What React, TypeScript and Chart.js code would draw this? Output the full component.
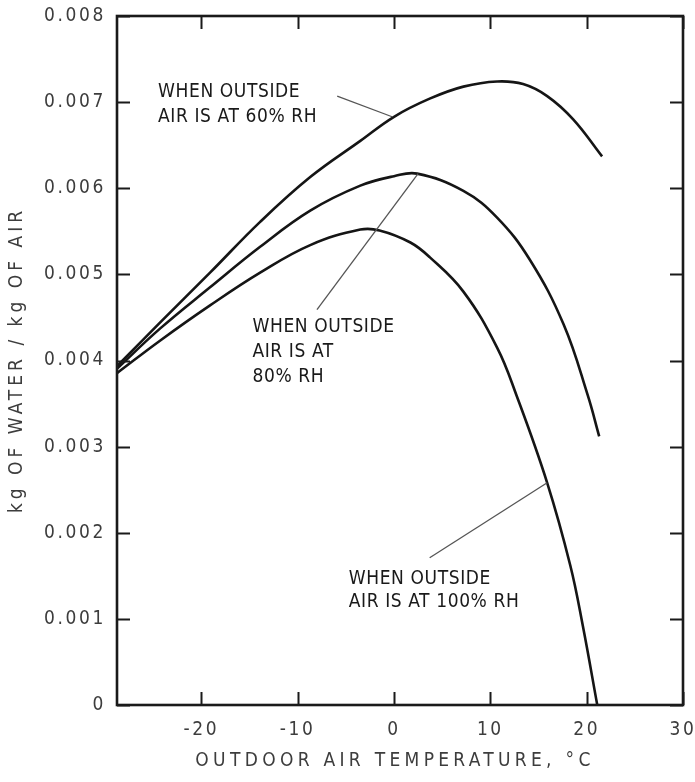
import { useEffect, useRef } from "react";
import { Chart, registerables } from "chart.js";

Chart.register(...registerables);

// ---- data ----
const xTicks = [-20, -10, 0, 10, 20, 30];
const yTicks = [0, 0.001, 0.002, 0.003, 0.004, 0.005, 0.006, 0.007, 0.008];

const temps60 = [-28.8, -24.3, -19.1, -13.9, -8.7, -3.5, 0, 3.7, 7.2, 10.7, 13.4, 15.9, 18.6, 21.6];
const rh60 = [0.00393, 0.00444, 0.00502, 0.00561, 0.00613, 0.00655, 0.00683, 0.00704, 0.00718, 0.00724, 0.00721, 0.00707, 0.0068, 0.00637];

const temps80 = [-28.8, -24.3, -19.1, -13.9, -8.7, -3.5, 0, 2.4, 7.2, 10.7, 14.1, 17.6, 20.1, 21.3];
const rh80 = [0.0039, 0.00437, 0.00485, 0.00532, 0.00574, 0.00603, 0.00614, 0.00617, 0.00597, 0.00566, 0.00517, 0.00442, 0.0036, 0.00312];

const temps100 = [-28.8, -24.3, -19.1, -13.9, -8.7, -3.5, -1.5, 1.7, 3.7, 7.2, 10.7, 12.7, 15.9, 18.3, 19.6, 21.1];
const rh100 = [0.00385, 0.00423, 0.00464, 0.00502, 0.00534, 0.00552, 0.00551, 0.00537, 0.0052, 0.0048, 0.00415, 0.0036, 0.00258, 0.00162, 0.00092, 0];

// callout leader lines [x, y] in data units
const leader60 = [[-5.9, 0.00707], [-0.2, 0.00683]];
const leader80 = [[-8.0, 0.00459], [2.5, 0.00617]];
const leader100 = [[3.7, 0.00171], [15.9, 0.00258]];

// annotation labels: anchor (data units) of first-line baseline
const label60 = ["WHEN OUTSIDE", "AIR IS AT 60% RH"];
const label60At = [-24.5, 0.00706];
const label80 = ["WHEN OUTSIDE", "AIR IS AT", "80% RH"];
const label80At = [-14.7, 0.00433];
const label100 = ["WHEN OUTSIDE", "AIR IS AT 100% RH"];
const label100At = [-4.7, 0.0014];

const xTitle = "OUTDOOR AIR TEMPERATURE, °C";
const yTitle = "kg OF WATER / kg OF AIR";

const FONT = "'DejaVu Sans Condensed', 'DejaVu Sans', sans-serif";

const toPts = (xs: number[], ys: number[]) => xs.map((x, i) => ({ x, y: ys[i] }));

const zeroPad = (s: any) => {
  s.paddingLeft = 0;
  s.paddingRight = 0;
  s.paddingTop = 0;
  s.paddingBottom = 0;
};

const overlay = {
  id: "overlay",
  beforeDraw(chart: any) {
    const ctx = chart.ctx;
    ctx.save();
    ctx.fillStyle = "#fff";
    ctx.fillRect(0, 0, chart.width, chart.height);
    ctx.restore();
    (ctx as any).letterSpacing = "2.6px";
  },
  afterDraw(chart: any) {
    const ctx: CanvasRenderingContext2D = chart.ctx;
    const { left, right, top, bottom } = chart.chartArea;
    const xs = chart.scales.x;
    const ys = chart.scales.y;
    ctx.save();
    // frame
    ctx.strokeStyle = "#1a1a1a";
    ctx.lineWidth = 2.6;
    ctx.strokeRect(left, top, right - left, bottom - top);
    // inward ticks
    ctx.lineWidth = 2;
    const tl = 13;
    ctx.beginPath();
    xTicks.forEach((v) => {
      const px = Math.round(xs.getPixelForValue(v)) + 0.5;
      ctx.moveTo(px, bottom);
      ctx.lineTo(px, bottom - tl);
      ctx.moveTo(px, top);
      ctx.lineTo(px, top + tl);
    });
    yTicks.forEach((v) => {
      const py = Math.round(ys.getPixelForValue(v)) + 0.5;
      ctx.moveTo(left, py);
      ctx.lineTo(left + tl, py);
      ctx.moveTo(right, py);
      ctx.lineTo(right - tl, py);
    });
    ctx.stroke();

    // leader lines
    ctx.strokeStyle = "#555";
    ctx.lineWidth = 1.3;
    [leader60, leader80, leader100].forEach((l) => {
      ctx.beginPath();
      ctx.moveTo(xs.getPixelForValue(l[0][0]), ys.getPixelForValue(l[0][1]));
      ctx.lineTo(xs.getPixelForValue(l[1][0]), ys.getPixelForValue(l[1][1]));
      ctx.stroke();
    });

    // annotation labels
    (ctx as any).letterSpacing = "0.6px";
    ctx.fillStyle = "#1a1a1a";
    ctx.font = `19px ${FONT}`;
    ctx.textAlign = "left";
    ctx.textBaseline = "alphabetic";
    const drawLabel = (lines: string[], at: number[], lh: number) => {
      const x0 = xs.getPixelForValue(at[0]);
      const y0 = ys.getPixelForValue(at[1]);
      lines.forEach((t, i) => ctx.fillText(t, x0, y0 + i * lh));
    };
    drawLabel(label60, label60At, 25);
    drawLabel(label80, label80At, 25);
    drawLabel(label100, label100At, 23);

    // axis titles
    (ctx as any).letterSpacing = "4.3px";
    ctx.fillStyle = "#3d3d3d";
    ctx.font = `19px ${FONT}`;
    ctx.textAlign = "center";
    ctx.textBaseline = "alphabetic";
    ctx.fillText(xTitle, (left + right) / 2 - 5, 766);
    (ctx as any).letterSpacing = "4px";
    ctx.save();
    ctx.translate(17, 360);
    ctx.rotate(-Math.PI / 2);
    ctx.textBaseline = "middle";
    ctx.fillText(yTitle, 0, 0);
    ctx.restore();
    ctx.restore();
  },
};

export default function App() {
  const ref = useRef<HTMLCanvasElement>(null);
  useEffect(() => {
    const lineDs = (data: { x: number; y: number }[]) => ({
      data,
      borderColor: "#151515",
      borderWidth: 2.6,
      pointRadius: 0,
      fill: false,
      tension: 0.4,
    });
    const chart = new Chart(ref.current!, {
      type: "line",
      data: {
        datasets: [
          lineDs(toPts(temps60, rh60)),
          lineDs(toPts(temps80, rh80)),
          lineDs(toPts(temps100, rh100)),
        ],
      },
      options: {
        animation: false,
        responsive: false,
        devicePixelRatio: 1,
        layout: { padding: { top: 16, right: 12, left: 0, bottom: 0 } },
        plugins: { legend: { display: false }, tooltip: { enabled: false } },
        scales: {
          x: {
            type: "linear",
            min: -28.76,
            max: 30,
            grid: { display: false, drawTicks: false },
            border: { display: false },
            afterBuildTicks: (s: any) => {
              s.ticks = xTicks.map((v) => ({ value: v }));
            },
            afterFit: (s: any) => {
              s.height = 77;
              zeroPad(s);
            },
            ticks: {
              padding: 14,
              color: "#3d3d3d",
              font: { family: FONT, size: 19 },
              maxRotation: 0,
              autoSkip: false,
              callback: (v: any) => String(v),
            },
          },
          y: {
            type: "linear",
            min: 0,
            max: 0.008,
            grid: { display: false, drawTicks: false },
            border: { display: false },
            afterBuildTicks: (s: any) => {
              s.ticks = yTicks.map((v) => ({ value: v }));
            },
            afterFit: (s: any) => {
              s.width = 117;
              zeroPad(s);
            },
            ticks: {
              padding: 11,
              color: "#3d3d3d",
              font: { family: FONT, size: 19 },
              autoSkip: false,
              callback: (v: any) => (v === 0 ? "0" : Number(v).toFixed(3)),
            },
          },
        },
      },
      plugins: [overlay],
    });
    return () => chart.destroy();
  }, []);
  return (
    <div style={{ position: "fixed", left: 0, top: 0, width: 695, height: 782, background: "#fff" }}>
      <canvas ref={ref} width={695} height={782} style={{ display: "block" }} />
    </div>
  );
}
